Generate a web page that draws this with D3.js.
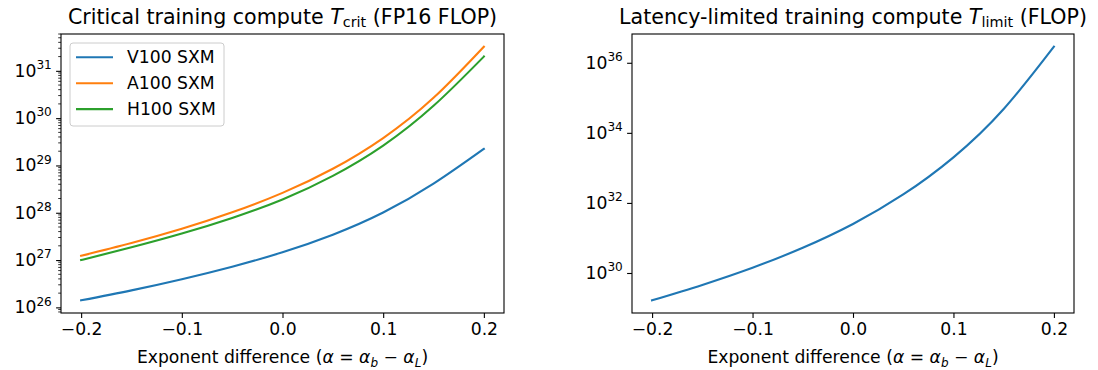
<!DOCTYPE html>
<html>
<head>
<meta charset="utf-8">
<script src="https://cdn.jsdelivr.net/npm/d3@7"></script>
<style>
body { margin: 0; background: #fff; }
svg { font-family: "DejaVu Sans", sans-serif; }
</style>
</head>
<body>
<svg id="chart" width="1098" height="370"></svg>
<script>
// values
var alphas = [-0.2, -0.15, -0.1, -0.05, 0, 0.05, 0.1, 0.15, 0.2];
var v100 = [1.41e26, 2.29e26, 3.94e26, 7.24e26, 1.46e27, 3.43e27, 1.01e28, 4.12e28, 2.24e29];
var a100 = [1.23e27, 2.29e27, 4.57e27, 1.02e28, 2.63e28, 8.51e28, 3.80e29, 2.69e30, 3.24e31];
var h100 = [1.00e27, 1.86e27, 3.63e27, 7.76e27, 1.91e28, 6.03e28, 2.63e29, 1.82e30, 2.00e31];
var tLimit = [1.66e29, 4.57e29, 1.41e30, 5.25e30, 2.51e31, 1.74e32, 2.00e33, 4.79e34, 2.88e36];

var gpuNames = ["V100 SXM", "A100 SXM", "H100 SXM"];
var gpuColors = ["#1f77b4", "#ff7f0e", "#2ca02c"];
var xTicks = [-0.2, -0.1, 0.0, 0.1, 0.2];
var leftYTicks = [26, 27, 28, 29, 30, 31];
var rightYTicks = [30, 32, 34, 36];

var svg = d3.select("#chart");
var tickFont = 17.2;

function logDomain(series) {
    var all = d3.merge(series);
    var lo = Math.log10(d3.min(all)), hi = Math.log10(d3.max(all));
    var pad = 0.05 * (hi - lo);
    return [Math.pow(10, lo - pad), Math.pow(10, hi + pad)];
}

function drawPanel(box, series, colors, yTickExps, minor, title, subText, unitText) {
    var g = svg.append("g").attr("transform", "translate(" + box.x + "," + box.y + ")");
    var w = box.w, h = box.h;

    var x = d3.scaleLinear().domain([-0.22, 0.22]).range([0, w]);
    var y = d3.scaleLog().domain(logDomain(series)).range([h, 0]);

    var clipId = "clip" + box.x;
    g.append("clipPath").attr("id", clipId).append("rect").attr("width", w).attr("height", h);

    var line = d3.line()
        .x(function (d) { return x(d[0]); })
        .y(function (d) { return y(d[1]); })
        .curve(d3.curveNatural);

    series.forEach(function (vals, i) {
        g.append("path")
            .attr("clip-path", "url(#" + clipId + ")")
            .datum(alphas.map(function (a, j) { return [a, vals[j]]; }))
            .attr("fill", "none")
            .attr("stroke", colors[i])
            .attr("stroke-width", 2.1)
            .attr("stroke-linecap", "square")
            .attr("d", line);
    });

    // x axis
    var xAxis = g.append("g").attr("transform", "translate(0," + h + ")")
        .call(d3.axisBottom(x).tickValues(xTicks).tickSize(4.9).tickPadding(4.4).tickFormat(d3.format(".1f")));
    xAxis.select(".domain").remove();
    xAxis.selectAll("line").attr("stroke", "#000").attr("stroke-width", 1.1);
    xAxis.selectAll("text").attr("font-size", tickFont).attr("fill", "#000")
        .attr("font-family", "DejaVu Sans");

    // minor y ticks
    if (minor) {
        var dom = y.domain();
        var minors = [];
        for (var e = Math.floor(Math.log10(dom[0])); e <= Math.ceil(Math.log10(dom[1])); e++) {
            for (var k = 2; k <= 9; k++) {
                var v = k * Math.pow(10, e);
                if (v >= dom[0] && v <= dom[1]) minors.push(v);
            }
        }
        g.append("g").selectAll("line").data(minors).enter().append("line")
            .attr("x1", -2.8).attr("x2", 0)
            .attr("y1", function (d) { return y(d); })
            .attr("y2", function (d) { return y(d); })
            .attr("stroke", "#000").attr("stroke-width", 0.8);
    }

    // major y ticks
    var yAxis = g.append("g")
        .call(d3.axisLeft(y).tickValues(yTickExps.map(function (e) { return Math.pow(10, e); }))
            .tickSize(4.9).tickFormat(""));
    yAxis.select(".domain").remove();
    yAxis.selectAll("line").attr("stroke", "#000").attr("stroke-width", 1.1);

    var labels = g.append("g").selectAll("text").data(yTickExps).enter().append("text")
        .attr("x", -9.2)
        .attr("y", function (e) { return y(Math.pow(10, e)) + 5.8; })
        .attr("text-anchor", "end")
        .attr("font-size", tickFont);
    labels.append("tspan").text("10");
    labels.append("tspan").attr("font-size", 12.1).attr("dy", -7.6).text(function (e) { return e; });

    // frame
    g.append("rect").attr("width", w).attr("height", h)
        .attr("fill", "none").attr("stroke", "#000").attr("stroke-width", 1.1);

    // title
    var t = g.append("text").attr("x", w / 2).attr("y", -10.5)
        .attr("text-anchor", "middle").attr("font-size", 20.6);
    t.append("tspan").text(title);
    t.append("tspan").attr("font-style", "italic").text("T");
    t.append("tspan").attr("font-size", 14.4).attr("dy", 3.7).text(subText);
    t.append("tspan").attr("dy", -3.7).text(" " + unitText);

    // x label
    var xl = g.append("text").attr("x", w / 2).attr("y", h + 50)
        .attr("text-anchor", "middle").attr("font-size", tickFont);
    xl.append("tspan").text("Exponent difference (");
    xl.append("tspan").attr("font-style", "italic").text("α");
    xl.append("tspan").text(" = ");
    xl.append("tspan").attr("font-style", "italic").text("α");
    xl.append("tspan").attr("font-style", "italic").attr("font-size", 12).attr("dy", 3.5).text("b");
    xl.append("tspan").attr("dy", -3.5).text(" \u2212 ");
    xl.append("tspan").attr("font-style", "italic").text("α");
    xl.append("tspan").attr("font-style", "italic").attr("font-size", 12).attr("dy", 3.5).text("L");
    xl.append("tspan").attr("dy", -3.5).text(")");

    return g;
}

var left = drawPanel({x: 61, y: 34, w: 443, h: 279}, [v100, a100, h100], gpuColors,
    leftYTicks, true, "Critical training compute ", "crit", "(FP16 FLOP)");
drawPanel({x: 632, y: 34, w: 442, h: 279}, [tLimit], [gpuColors[0]],
    rightYTicks, false, "Latency-limited training compute ", "limit", "(FLOP)");

// legend
var legend = left.append("g").attr("transform", "translate(9,9)");
legend.append("rect").attr("width", 154).attr("height", 83).attr("rx", 3)
    .attr("fill", "#fff").attr("fill-opacity", 0.8)
    .attr("stroke", "#ccc").attr("stroke-width", 1);
gpuNames.forEach(function (name, i) {
    var row = legend.append("g").attr("transform", "translate(0," + (14.3 + i * 25.9) + ")");
    row.append("line").attr("x1", 6).attr("x2", 43)
        .attr("stroke", gpuColors[i]).attr("stroke-width", 2.1);
    row.append("text").attr("x", 57).attr("y", 6).attr("font-size", tickFont).text(name);
});
</script>
</body>
</html>
